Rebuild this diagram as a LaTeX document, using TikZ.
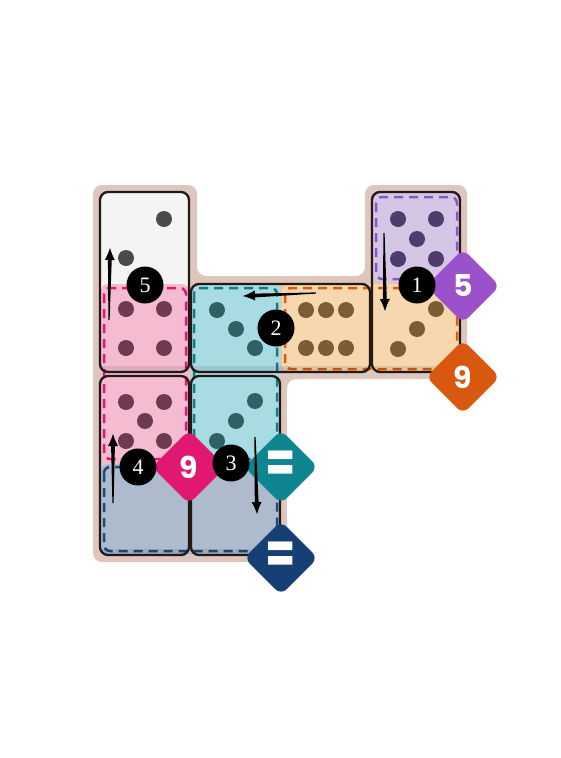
\documentclass[tikz,border=0pt]{standalone}
\usepackage{fontspec}
\newfontfamily\badgefont{Poppins}
\newfontfamily\markfont{Liberation Serif}
\usepackage{tikz}
\usetikzlibrary{shapes.geometric, arrows.meta, positioning, calc}

\definecolor{board}{HTML}{DCC6BD}
\definecolor{edge}{HTML}{231814}
\definecolor{blankcell}{HTML}{F4F4F4}
\definecolor{blankpip}{HTML}{4A4A4A}
\definecolor{pinkfill}{HTML}{F5BBD1}
\definecolor{pinkline}{HTML}{E0186F}
\definecolor{pinkpip}{HTML}{6E3A50}
\definecolor{tealfill}{HTML}{A8DCE2}
\definecolor{tealline}{HTML}{1A7A82}
\definecolor{tealpip}{HTML}{2F6066}
\definecolor{tealbadge}{HTML}{0E8591}
\definecolor{orangefill}{HTML}{F7D8AE}
\definecolor{orangeline}{HTML}{D65D0E}
\definecolor{orangepip}{HTML}{7B5C33}
\definecolor{orangebadge}{HTML}{D9580F}
\definecolor{purplefill}{HTML}{D6C6E5}
\definecolor{purpleline}{HTML}{8B55C8}
\definecolor{purplepip}{HTML}{4E3C6C}
\definecolor{purplebadge}{HTML}{9B51C9}
\definecolor{navyfill}{HTML}{ADBBCD}
\definecolor{navyline}{HTML}{1D4A7A}
\definecolor{navybadge}{HTML}{163F75}

\newcommand{\drawpips}[3]{\foreach \dx/\dy in {#3} \fill[#1] ($(#2)+(\dx,\dy)$) circle (8);}
% tapered arrow from #1 to #2
\newcommand{\movearrow}[2]{%
    \coordinate (#2base) at ($(#2)!12pt!(#1)$);
    \fill ($(#1)!0.6pt!90:(#2)$) -- ($(#1)!0.6pt!-90:(#2)$) -- ($(#2base)!1.9pt!-90:(#2)$) -- ($(#2base)!1.9pt!90:(#2)$) -- cycle;
    \draw[move] (#2base) -- (#2);
}

\begin{document}
\begin{tikzpicture}[
    x=1pt, y=-1pt,
    region/.style={rounded corners=7pt},
    dashline/.style={dash pattern=on 9pt off 6pt, line width=2.5pt, rounded corners=6pt},
    domino/.style={draw=edge, line width=2.3pt, rounded corners=8pt},
    badge/.style={diamond, aspect=1, minimum size=74pt, inner sep=0pt, rounded corners=8pt, text=white, font=\badgefont\bfseries\fontsize{30}{30}\selectfont},
    stepmark/.style={circle, fill=black, minimum size=37pt, inner sep=0pt, text=white, font=\markfont\fontsize{22}{22}\selectfont},
    move/.style={-{Latex[length=12pt,width=10pt]}, line width=0.5pt}
]
    \useasboundingbox (0,0) rectangle (560,758);

    % Board
    \fill[board, rounded corners=9pt] (93,185) -- (197,185) -- (197,276) -- (365,276) -- (365,185)
        -- (467,185) -- (467,379) -- (287,379) -- (287,562) -- (93,562) -- cycle;

    % Regions
    \fill[region, blankcell] (101,193) rectangle (189,371);
    \fill[region, pinkfill] (101,284) rectangle (189,463);
    \fill[region, tealfill] (191,284) rectangle (280,463);
    \fill[region, orangefill] (282,284) rectangle (459,371);
    \fill[region, purplefill] (373,193) rectangle (459,282);
    \fill[region, navyfill] (101,464) rectangle (280,554);

    \draw[dashline, pinkline] (104,288) rectangle (186,459);
    \draw[dashline, tealline] (194,288) rectangle (277,459);
    \draw[dashline, orangeline] (285,288) rectangle (457,369);
    \draw[dashline, purpleline] (376,197) rectangle (457,279);
    \draw[dashline, navyline] (104,467) rectangle (277,551);

    % Pips
    \coordinate (c00) at (145,238);
    \coordinate (c01) at (145,329);
    \coordinate (c11) at (236,329);
    \coordinate (c21) at (326,329);
    \coordinate (c30) at (417,239);
    \coordinate (c31) at (417,329);
    \coordinate (c02) at (145,421);
    \coordinate (c12) at (236,421);

    \drawpips{blankpip}{c00}{19/-19, -19/20}
    \drawpips{pinkpip}{c01}{-19/-20, 19/-20, -19/19, 19/19}
    \drawpips{tealpip}{c11}{-19/-19, 0/0, 19/19}
    \drawpips{orangepip}{c21}{-20/-19, 0/-19, 20/-19, -20/19, 0/19, 20/19}
    \drawpips{purplepip}{c30}{-19/-20, 19/-20, 0/0, -19/20, 19/20}
    \drawpips{orangepip}{c31}{19/-20, 0/0, -19/20}
    \drawpips{pinkpip}{c02}{-19/-19, 19/-19, 0/0, -19/20, 19/20}
    \drawpips{tealpip}{c12}{19/-20, 0/0, -19/20}

    % Dominoes (with a darker strip along the bottom)
    \foreach \xa/\ya/\xb/\yb in {100/192/189/372, 191/284/370/372, 372/192/460/372, 100/376/189/555, 191/376/280/555} {
        \begin{scope}
            \clip[rounded corners=8pt] (\xa,\ya) rectangle (\xb,\yb);
            \fill[black, opacity=0.09] (\xa,{\yb-6}) rectangle (\xb,\yb);
        \end{scope}
        \draw[domino] (\xa,\ya) rectangle (\xb,\yb);
    }

    % Badges
    \node[badge, fill=purplebadge] (sum5) at (463,286) {5};
    \node[badge, fill=orangebadge] (sum9o) at (463,377) {9};
    \node[badge, fill=pinkline] (sum9p) at (189,467) {9};
    \node[badge, fill=tealbadge] (eqteal) at (281,467) {\scalebox{1.45}[1.9]{=}};
    \node[badge, fill=navybadge] (eqnavy) at (281,558) {\scalebox{1.45}[1.9]{=}};

    % Moves
    \coordinate (m1a) at (384,233);
    \coordinate (m1b) at (385,311);
    \coordinate (m2a) at (316,293);
    \coordinate (m2b) at (243,296);
    \coordinate (m3a) at (255,437);
    \coordinate (m3b) at (257,514);
    \coordinate (m4a) at (113,503);
    \coordinate (m4b) at (113,434);
    \coordinate (m5a) at (109,320);
    \coordinate (m5b) at (110,248);

    \movearrow{m1a}{m1b}
    \movearrow{m2a}{m2b}
    \movearrow{m3a}{m3b}
    \movearrow{m4a}{m4b}
    \movearrow{m5a}{m5b}

    \node[stepmark] (s1) at (417,285) {1};
    \node[stepmark] (s2) at (276,328) {2};
    \node[stepmark] (s3) at (231,463) {3};
    \node[stepmark] (s4) at (138,467) {4};
    \node[stepmark] (s5) at (145,285) {5};

\end{tikzpicture}
\end{document}
